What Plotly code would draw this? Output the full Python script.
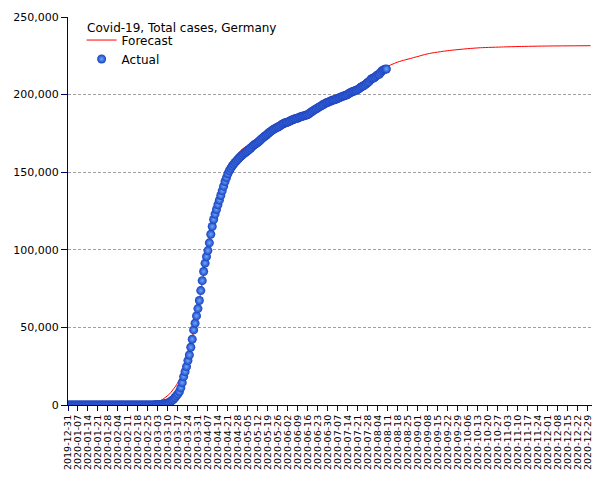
import pandas as pd
import plotly.graph_objects as go

# ---- data ----
actual_start = "2019-12-31"
actual_values = (
    [0] * 27
    + [1, 4, 4, 5, 7]
    + [8, 10, 12, 12, 12, 13, 13, 14, 14, 14]
    + [16] * 14
    + [18, 21, 26, 53, 66]
    # March
    + [117, 150, 188, 240, 349, 534, 684, 847, 1112, 1296, 1567, 2369, 3062, 3795,
       4838, 6012, 7156, 8600, 11000, 14400, 18300, 21500, 24700, 28600, 32200,
       37200, 42400, 48400, 52700, 57400, 62100]
    # April
    + [67300, 73700, 80100, 86000, 91400, 95600, 99500, 104500, 110000, 115000,
       119500, 123000, 126000, 129000, 132000, 135000, 138000, 141000, 144000,
       146500, 149000, 151000, 152500, 154000, 155200, 156300, 157300, 158300,
       159300, 160200]
    # May
    + [161000, 161800, 162500, 163200, 163900, 164700, 165600, 166500, 167300,
       168000, 168600, 169300, 170100, 170900, 171800, 172600, 173300, 174000,
       174800, 175600, 176300, 177000, 177600, 178100, 178600, 179100, 179600,
       180200, 180900, 181400, 181800]
    # June
    + [182028, 182370, 182764, 183271, 183678, 184121, 184472, 184543, 184861,
       185416, 185674, 186022, 186269, 186461, 186839, 187184, 187764, 188534,
       189135, 189822, 190359, 190862, 191449, 192079, 192556, 193243, 193499,
       194259, 194693, 195042]
    # July
    + [195418, 195893, 196335, 196554, 196780, 197198, 197523, 197964, 198343,
       198765, 199123, 199375, 199726, 200180, 200843, 201372, 201823, 202169,
       202426, 202799, 203325, 203890, 204695, 205269, 205609, 206242, 206926,
       207828, 208546, 209653, 210402]
    # August
    + [210670, 211281, 212022, 212828, 213067, 214214, 215336, 215891, 216327, 216500]
)
actual_dates = pd.date_range(actual_start, periods=len(actual_values), freq="D")

forecast_dates = [
    "2019-12-31", "2020-02-20", "2020-03-01", "2020-03-06", "2020-03-11", "2020-03-16",
    "2020-03-21", "2020-03-26", "2020-03-31", "2020-04-05", "2020-04-10",
    "2020-04-15", "2020-04-20", "2020-04-25", "2020-04-30", "2020-05-05",
    "2020-05-10", "2020-05-20", "2020-05-30", "2020-06-09", "2020-06-19",
    "2020-06-29", "2020-07-09", "2020-07-19", "2020-07-29", "2020-08-08",
    "2020-08-18", "2020-08-29", "2020-09-08", "2020-09-22", "2020-10-06",
    "2020-10-15", "2020-10-31", "2020-11-11", "2020-12-01", "2020-12-31",
]
forecast_values = [
    0, 0, 1000, 3500, 7000, 13000,
    22000, 39000, 62000, 90000, 116000,
    135000, 149000, 158000, 164000, 167500,
    170000, 174500, 178500, 182500, 187500,
    193000, 199000, 205000, 211500, 217000,
    221000, 223800, 226300, 228300, 229600,
    230200, 230700, 231000, 231300, 231500,
]

chart_title = "Covid-19, Total cases, Germany"
y_tick_vals = [0, 50000, 100000, 150000, 200000, 250000]

NAVY = "#000066"

fig = go.Figure()
fig.add_trace(go.Scatter(
    x=forecast_dates, y=forecast_values, name="Forecast", mode="lines",
    line=dict(color="#ff0000", width=1, shape="spline", smoothing=0.6),
))
fig.add_trace(go.Scatter(
    x=actual_dates, y=actual_values, name="Actual", mode="markers",
    marker=dict(size=9, color="#1a3fbf",
                gradient=dict(type="radial", color="#6aaaff"),
                line=dict(width=0)),
))

fig.update_layout(
    width=605, height=480,
    paper_bgcolor="white", plot_bgcolor="white",
    margin=dict(l=68, r=13, t=17, b=75, autoexpand=False),
    font=dict(family="DejaVu Sans", color="black"),
    showlegend=True,
    legend=dict(
        x=0.026, y=0.978, xanchor="left", yanchor="top",
        bgcolor="rgba(0,0,0,0)", borderwidth=0,
        font=dict(size=12), itemwidth=30, tracegroupgap=0,
    ),
    annotations=[dict(
        text=chart_title, xref="paper", yref="paper",
        x=0.033, y=0.995, xanchor="left", yanchor="top",
        showarrow=False, font=dict(size=12, color="black"),
    )],
)
fig.update_xaxes(
    type="date", automargin=False,
    range=["2019-12-31", "2021-01-01"],
    tick0="2019-12-31", dtick=7 * 86400000,
    tickformat="%Y-%m-%d", tickangle=-90,
    tickfont=dict(size=9.5, family="DejaVu Sans"),
    showline=True, linecolor=NAVY, linewidth=1,
    ticks="outside", ticklen=5, tickcolor=NAVY,
    showgrid=False, zeroline=False,
)
fig.update_yaxes(
    automargin=False,
    range=[0, 250000],
    tickvals=y_tick_vals, tickformat=",d",
    tickfont=dict(size=11, family="DejaVu Sans"),
    showline=True, linecolor=NAVY, linewidth=1,
    ticks="outside", ticklen=6, tickcolor=NAVY,
    showgrid=True, gridcolor="#a0a0a0", griddash="3px,2px", gridwidth=1,
    zeroline=False,
)

fig.write_html("out.html", config={"displayModeBar": False},
               post_script="document.body.style.margin='0px';")
